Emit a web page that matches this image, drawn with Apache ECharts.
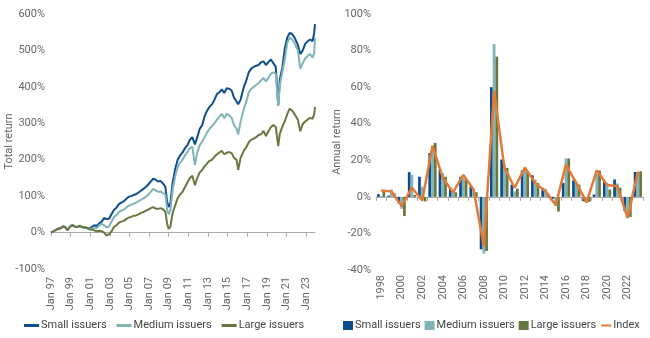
<!DOCTYPE html>
<html>
<head>
<meta charset="utf-8">
<script src="https://cdn.jsdelivr.net/npm/echarts@6/dist/echarts.min.js"></script>
<style>
html,body{margin:0;padding:0;background:#fff;}
#left{position:absolute;left:0;top:0;width:330px;height:338px;}
#right{position:absolute;left:325px;top:0;width:325px;height:338px;}
</style>
</head>
<body>
<div id="left"></div>
<div id="right"></div>
<script>
// ---- Left chart: cumulative total return ----
const dates = ["1997-01","1997-05","1997-09","1998-01","1998-04","1998-07","1998-09","1998-12","1999-03","1999-06","1999-09","1999-12","2000-03","2000-06","2000-09","2000-12","2001-03","2001-06","2001-09","2001-12","2002-03","2002-06","2002-09","2002-12","2003-03","2003-06","2003-09","2003-12","2004-03","2004-06","2004-09","2004-12","2005-03","2005-06","2005-09","2005-12","2006-03","2006-06","2006-09","2006-12","2007-03","2007-06","2007-09","2007-12","2008-03","2008-06","2008-09","2008-11","2009-01","2009-03","2009-06","2009-09","2009-12","2010-03","2010-06","2010-09","2010-12","2011-03","2011-06","2011-09","2011-12","2012-03","2012-06","2012-09","2012-12","2013-03","2013-06","2013-09","2013-12","2014-03","2014-06","2014-09","2014-12","2015-03","2015-06","2015-09","2015-12","2016-02","2016-05","2016-09","2016-12","2017-03","2017-06","2017-09","2017-12","2018-03","2018-06","2018-09","2018-12","2019-03","2019-06","2019-09","2019-12","2020-03","2020-05","2020-08","2020-11","2021-02","2021-05","2021-08","2021-11","2022-03","2022-06","2022-09","2022-12","2023-03","2023-06","2023-09","2023-11","2023-12"];
const smallTotal = [0,5,10,13,17,14,7,16,20,17,15,18,15,14,13,10,16,20,18,25,30,40,37,38,50,62,68,78,82,86,92,98,100,103,105,110,115,120,125,132,140,148,145,140,142,135,125,85,70,80,140,175,200,212,220,232,240,255,262,242,262,285,295,320,335,345,352,365,380,385,393,383,396,395,390,370,360,352,365,400,418,440,450,455,458,460,468,470,460,468,475,465,455,349,420,452,505,535,548,545,535,515,490,500,518,525,530,525,548,572];
const mediumTotal = [0,5,10,13,17,14,7,16,20,17,15,18,14,13,12,9,11,14,12,20,23,20,14,17,30,42,48,56,60,63,68,74,76,79,82,86,90,94,98,104,112,120,116,112,113,108,104,65,50,60,120,155,180,192,200,212,222,232,235,185,220,240,250,262,275,285,292,300,310,318,326,314,326,322,315,295,285,270,305,340,360,385,395,400,405,410,418,424,415,425,436,440,436,349,405,440,475,520,535,530,520,500,450,465,478,485,490,480,492,535];
const largeTotal = [0,5,9,12,17,14,6,15,21,16,15,19,15,14,13,9,8,6,3,5,4,0,-8,-5,3,15,20,27,30,32,37,41,43,46,47,50,54,56,60,63,67,70,66,65,67,64,57,25,10,16,55,75,95,105,112,125,138,150,156,130,150,165,172,182,190,197,200,208,215,220,224,215,219,221,218,205,200,172,205,225,235,248,255,258,262,268,270,279,265,278,289,295,290,237,272,290,305,325,340,335,325,310,278,298,305,310,315,312,325,345];
const leftTicks = ["Jan 97","Jan 99","Jan 01","Jan 03","Jan 05","Jan 07","Jan 09","Jan 11","Jan 13","Jan 15","Jan 17","Jan 19","Jan 21","Jan 23"];

// ---- Right chart: annual return ----
const years = ["1998","1999","2000","2001","2002","2003","2004","2005","2006","2007","2008","2009","2010","2011","2012","2013","2014","2015","2016","2017","2018","2019","2020","2021","2022","2023"];
const smallAnnual  = [1.5,0.7,-3.5,13.5,11,24,15,5,11,5.8,-28.7,60,20.4,6.7,14.4,11.8,4.9,-1,7.6,9,-2.4,1.3,8.5,9.5,-7.8,13.6];
const mediumAnnual = [0.5,4,-6.5,12,5.5,28,13,3,10.5,4,-31,83.5,17.6,3,15,9.5,4.5,-5,21,8,-3,12.5,7.6,7.3,-9.6,13.6];
const largeAnnual  = [3,2,-10.5,1,-2.5,29.5,11,2.5,9.5,2.5,-29.6,76.7,15.8,4.5,13.5,7.6,1.8,-8,21,6.7,-2.7,14.4,4,5,-11,14];
const indexAnnual  = [3.5,3,-5,5,-2,28,10.5,2.5,12,4,-27,58,16,5,16,7.6,3,-4.5,17.6,7.6,-3,14.5,6.5,5.8,-11.5,13.8];

const C_SMALL = '#0c4d8e', C_MED = '#7fb4b8', C_LARGE = '#67773f', C_INDEX = '#e27a36';
const FONT = 'Roboto';
const TXT = '#666';

function monthIdx(d){ const [y,m] = d.split('-').map(Number); return (y-1997)*12 + (m-1); }
const tickVals = leftTicks.map(t => { const yy = Number(t.slice(4)); return ((yy > 50 ? 1900 : 2000) + yy - 1997) * 12; });
const pts = arr => dates.map((d,i)=>[monthIdx(d), arr[i]]);

const left = echarts.init(document.getElementById('left'), null, {renderer:'canvas'});
left.setOption({
  animation:false,
  textStyle:{fontFamily:FONT},
  grid:{left:51, top:14, width:264, height:255, outerBoundsMode:'none', containLabel:false},
  legend:{
    left:24, top:320, padding:0, itemWidth:15, itemHeight:3, itemGap:10, icon:'rect',
    textStyle:{fontFamily:FONT, fontSize:11, color:'#444', padding:[0,0,0,-3]},
    data:['Small issuers','Medium issuers','Large issuers']
  },
  xAxis:[{
    type:'value', min:0, max:323, position:'bottom',
    axisLine:{show:false, onZero:false}, axisTick:{show:false},
    axisLabel:{rotate:90, margin:8, color:TXT, fontSize:11, fontFamily:FONT, customValues:tickVals,
      formatter: v => { const i = tickVals.indexOf(v); return i>=0 ? leftTicks[i] : ''; }},
    splitLine:{show:false}
  },{
    type:'value', min:0, max:323, position:'top',
    axisLine:{show:true, onZero:true, lineStyle:{color:'#aaa', width:1}},
    axisTick:{show:true, inside:true, length:4, lineStyle:{color:'#aaa'}, customValues:tickVals},
    axisLabel:{show:false}, splitLine:{show:false}
  }],
  yAxis:{
    type:'value', min:-100, max:600, interval:100,
    name:'Total return', nameLocation:'middle', nameGap:36, nameMoveOverlap:false,
    nameTextStyle:{color:TXT, fontSize:11, fontFamily:FONT},
    axisLine:{show:false}, axisTick:{show:false}, splitLine:{show:false},
    axisLabel:{color:TXT, fontSize:11, margin:6, fontFamily:FONT, formatter: v => v + '%'}
  },
  series:[
    {name:'Small issuers', type:'line', data:pts(smallTotal), showSymbol:false, symbol:'none', lineStyle:{color:C_SMALL, width:2}, itemStyle:{color:C_SMALL}},
    {name:'Medium issuers', type:'line', data:pts(mediumTotal), showSymbol:false, symbol:'none', lineStyle:{color:C_MED, width:2}, itemStyle:{color:C_MED}},
    {name:'Large issuers', type:'line', data:pts(largeTotal), showSymbol:false, symbol:'none', lineStyle:{color:C_LARGE, width:2}, itemStyle:{color:C_LARGE}}
  ]
});

const right = echarts.init(document.getElementById('right'), null, {renderer:'canvas'});
right.setOption({
  animation:false,
  textStyle:{fontFamily:FONT},
  grid:{left:51, top:14, width:267, height:256, outerBoundsMode:'none', containLabel:false},
  legend:{
    left:18, top:320, padding:0, itemWidth:10, itemHeight:9, itemGap:4,
    textStyle:{fontFamily:FONT, fontSize:11, color:'#444', padding:[0,0,0,-3]},
    data:[{name:'Small issuers', icon:'rect'},{name:'Medium issuers', icon:'rect'},{name:'Large issuers', icon:'rect'},
          {name:'Index', itemStyle:{opacity:0, borderWidth:0}}]
  },
  xAxis:[{
    type:'category', data:years, position:'bottom',
    axisLine:{show:false, onZero:false}, axisTick:{show:false},
    axisLabel:{rotate:90, margin:5, interval:1, color:TXT, fontSize:11, fontFamily:FONT}
  },{
    type:'category', data:years, position:'top',
    axisLine:{show:true, onZero:true, lineStyle:{color:'#aaa'}},
    axisTick:{show:true, inside:true, length:4, interval:0, lineStyle:{color:'#aaa'}},
    axisLabel:{show:false}
  }],
  yAxis:{
    type:'value', min:-40, max:100, interval:20,
    name:'Annual return', nameLocation:'middle', nameGap:33, nameMoveOverlap:false,
    nameTextStyle:{color:TXT, fontSize:11, fontFamily:FONT},
    axisLine:{show:false}, axisTick:{show:false}, splitLine:{show:false},
    axisLabel:{color:TXT, fontSize:11, margin:5, fontFamily:FONT, formatter: v => v + '%'}
  },
  series:[
    {name:'Small issuers', type:'bar', data:smallAnnual, barGap:'0%', barCategoryGap:'20%', itemStyle:{color:C_SMALL}},
    {name:'Medium issuers', type:'bar', data:mediumAnnual, barGap:'0%', barCategoryGap:'20%', itemStyle:{color:C_MED}},
    {name:'Large issuers', type:'bar', data:largeAnnual, barGap:'0%', barCategoryGap:'20%', itemStyle:{color:C_LARGE}},
    {name:'Index', type:'line', data:indexAnnual, showSymbol:false, symbol:'none', lineStyle:{color:C_INDEX, width:2.5}, itemStyle:{color:C_INDEX}}
  ]
});
</script>
</body>
</html>
